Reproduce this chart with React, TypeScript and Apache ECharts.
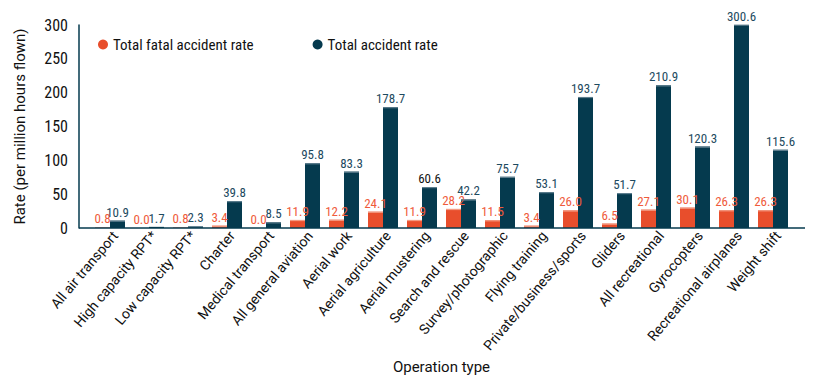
import React, { useEffect, useRef } from "react";
import * as echarts from "echarts";

const categories = [
  "All air transport",
  "High capacity RPT*",
  "Low capacity RPT*",
  "Charter",
  "Medical transport",
  "All general aviation",
  "Aerial work",
  "Aerial agriculture",
  "Aerial mustering",
  "Search and rescue",
  "Survey/photographic",
  "Flying training",
  "Private/business/sports",
  "Gliders",
  "All recreational",
  "Gyrocopters",
  "Recreational airplanes",
  "Weight shift",
];
const fatalRate = [0.8, 0.0, 0.8, 3.4, 0.0, 11.9, 12.2, 24.1, 11.9, 28.2, 11.5, 3.4, 26.0, 6.5, 27.1, 30.1, 26.3, 26.3];
const totalRate = [10.9, 1.7, 2.3, 39.8, 8.5, 95.8, 83.3, 178.7, 60.6, 42.2, 75.7, 53.1, 193.7, 51.7, 210.9, 120.3, 300.6, 115.6];
const yTicks = [0, 50, 100, 150, 200, 250, 300];

const ORANGE = "#e84e2c";
const DARK = "#053a4e";
const BAR_W = 15;
const COND = '"Roboto Condensed", "Liberation Sans Narrow", "DejaVu Sans Condensed", Roboto, sans-serif';

function labelSeries(values: number[], offset: number, color: string, topColor: string, specialColor?: Record<number, string>) {
  return {
    type: "custom",
    xAxisIndex: 0,
    yAxisIndex: 0,
    silent: true,
    z: 5,
    data: values.map((v, i) => [i, v]),
    encode: { x: 0, y: 1 },
    renderItem: (params: any, api: any) => {
      const idx = api.value(0);
      const v = api.value(1);
      const pt = api.coord([idx, v]);
      const base = api.coord([idx, 0]);
      const cx = pt[0] + offset;
      const children: any[] = [];
      if (base[1] - pt[1] >= 1.5) {
        children.push({
          type: "rect",
          shape: { x: cx - BAR_W / 2, y: pt[1], width: BAR_W, height: 1.2 },
          style: { fill: topColor },
        });
      }
      children.push({
        type: "text",
        x: cx,
        y: pt[1] - 2,
        style: {
          text: Number(v).toFixed(1),
          fill: (specialColor && specialColor[idx]) || color,
          font: "13px " + COND,
          align: "center",
          verticalAlign: "bottom",
        },
      });
      return { type: "group", children };
    },
  };
}

export default function App() {
  const ref = useRef<HTMLDivElement>(null);
  useEffect(() => {
    if (!ref.current) return;
    const chart = echarts.init(ref.current, null, { renderer: "svg" });
    chart.setOption({
      animation: false,
      backgroundColor: "#ffffff",
      textStyle: { fontFamily: "Roboto, sans-serif" },
      legend: {
        top: 32,
        left: 93,
        itemGap: 59,
        itemWidth: 10,
        itemHeight: 10,
        icon: "circle",
        textStyle: { fontFamily: COND, fontSize: 15, color: "#111" },
        data: ["Total fatal accident rate", "Total accident rate"],
      },
      grid: [
        { left: 90.5, right: 824 - 792.5, top: 25, bottom: 390 - 228 },
        { left: 95.5, right: 824 - 797.5, top: 25, bottom: 390 - 228 },
      ],
      xAxis: [
        {
          type: "category",
          gridIndex: 0,
          data: categories,
          name: "Operation type",
          nameLocation: "middle",
          nameGap: 131,
          nameTextStyle: { fontFamily: "Roboto", fontSize: 15, color: "#111" },
          axisLine: { show: false },
          axisTick: { show: false },
          axisLabel: { show: false },
        },
        {
          type: "category",
          gridIndex: 1,
          data: categories,
          axisLine: { show: false },
          axisTick: { show: false },
          axisLabel: {
            rotate: 50,
            interval: 0,
            fontFamily: "Roboto",
            fontSize: 14,
            color: "#111",
            margin: 5,
          },
        },
      ],
      yAxis: [
        {
          type: "value",
          gridIndex: 0,
          min: 0,
          max: 300,
          interval: 50,
          offset: 11.5,
          name: "Rate (per million hours flown)",
          nameLocation: "middle",
          nameGap: 52,
          nameTextStyle: { fontFamily: "Roboto", fontSize: 15, color: "#111" },
          axisLine: { show: true, lineStyle: { color: DARK, width: 1.5 } },
          axisTick: { show: false },
          splitLine: { show: false },
          axisLabel: {
            fontFamily: COND,
            fontSize: 16,
            color: "#111",
            margin: 11,
            formatter: (v: number) => (yTicks.includes(v) ? String(v) : ""),
          },
        },
        {
          type: "value",
          gridIndex: 1,
          min: 0,
          max: 300,
          show: false,
        },
      ],
      graphic: [
        {
          type: "line",
          shape: { x1: 79, y1: 228, x2: 805, y2: 228 },
          style: { stroke: DARK, lineWidth: 1.5 },
          z: 10,
        },
      ],
      series: [
        {
          name: "Total fatal accident rate",
          type: "bar",
          data: fatalRate,
          barWidth: BAR_W,
          barGap: "0%",
          itemStyle: { color: ORANGE },
        },
        {
          name: "Total accident rate",
          type: "bar",
          data: totalRate,
          barWidth: BAR_W,
          barGap: "0%",
          itemStyle: { color: DARK },
        },
        labelSeries(fatalRate, -BAR_W / 2, "#ef5b3b", "#f39a82"),
        labelSeries(totalRate, BAR_W / 2, "#1d4a60", "#5d7e8e", { 8: "#111111" }),
      ],
    });
    return () => chart.dispose();
  }, []);
  return <div ref={ref} style={{ width: 824, height: 390, margin: -8 }} />;
}
